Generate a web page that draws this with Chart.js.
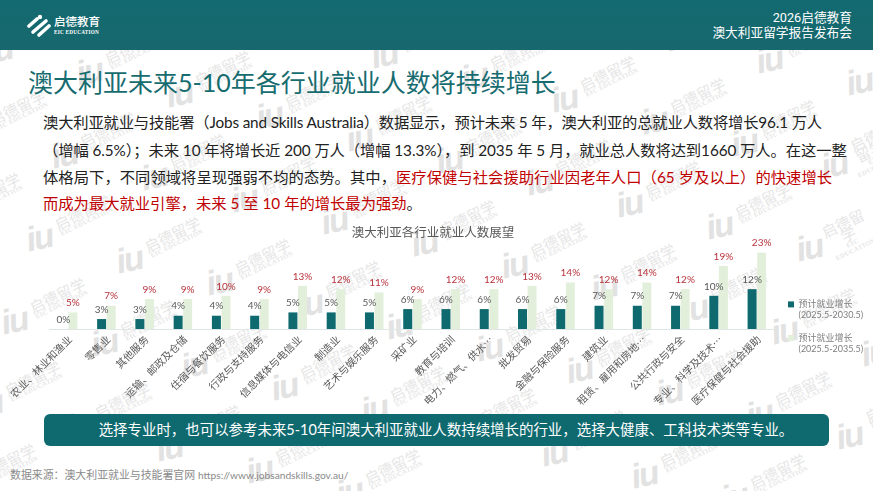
<!DOCTYPE html>
<html>
<head>
<meta charset="utf-8">
<script src="https://cdn.jsdelivr.net/npm/chart.js@4"></script>
<style>
html, body { margin: 0; padding: 0; }
body { width: 873px; height: 491px; position: relative; overflow: hidden; background: #fff; font-family: Lato, "Noto Sans CJK SC", sans-serif; }
.abs { position: absolute; white-space: nowrap; }
#marks { position: absolute; left: 0; top: 0; width: 873px; height: 491px; overflow: hidden; }
.iu { position: absolute; font: italic bold 34px "Liberation Sans", sans-serif; color: #e2e2e2; transform: rotate(-12deg); letter-spacing: -2px; }
.wm { position: absolute; font: 15px "Noto Sans CJK SC", sans-serif; color: #e6e6e6; transform: rotate(-26deg); text-align: center; line-height: 12px; }
.wm small { display: block; font: bold 6.5px "Liberation Serif", serif; letter-spacing: .4px; }
#head { left: 0; top: 0; width: 873px; height: 50px; background: linear-gradient(#126a70, #17686e); }
#title { left: 28px; top: 64px; font-size: 25px; line-height: 36px; color: #176c70; }
.para { left: 43px; font-size: 15.3px; line-height: 20px; color: #222; }
.red { color: #c00000; }
#banner { left: 44px; top: 414px; width: 766px; padding-left: 19px; height: 32px; border-radius: 6px; background: #0f6a70; color: #fff; font-size: 14.45px; line-height: 32px; text-align: center; }
#source { left: 10px; top: 468px; font-size: 10.9px; line-height: 14px; color: #8a8a8a; }
#source span { font-size: 10.2px; }
#chartBox { position: absolute; left: 0; top: 222px; }
.right { right: 21px; font-family: Roboto, "Noto Sans CJK SC", sans-serif; font-size: 12.7px; line-height: 16px; color: #fff; text-align: right; }
</style>
</head>
<body>
<div id="marks"></div>
<div class="abs" id="head"></div>
<svg class="abs" style="left:27px;top:14px" width="24" height="24" viewBox="0 0 24 24">
  <g fill="none" stroke="#fff" stroke-width="3.6" stroke-linecap="round">
    <path d="M2 12 L10 5"/><path d="M6 18 L19 7"/><path d="M12 21 L22 12"/>
  </g>
  <circle cx="13" cy="3" r="2.2" fill="#fff"/>
</svg>
<div class="abs" style="left:54px;top:14px;font-size:11.5px;line-height:16px;color:#fff;font-weight:500">启德教育</div>
<div class="abs" style="left:54px;top:28px;font:bold 5.2px/8px 'Liberation Serif',serif;color:#fff;letter-spacing:.25px">EIC EDUCATION</div>
<div class="abs right" style="top:10px">2026启德教育</div>
<div class="abs right" style="top:25px">澳大利亚留学报告发布会</div>
<div class="abs" id="title">澳大利亚未来5-10年各行业就业人数将持续增长</div>
<div class="abs para" style="top:112px;letter-spacing:-.16px">澳大利亚就业与技能署（Jobs and Skills Australia）数据显示，预计未来 5 年，澳大利亚的总就业人数将增长96.1 万人</div>
<div class="abs para" style="top:140px;letter-spacing:-.08px">（增幅 6.5%）；未来 10 年将增长近 200 万人（增幅 13.3%），到 2035 年 5 月，就业总人数将达到1660 万人。在这一整</div>
<div class="abs para" style="top:167px;letter-spacing:.05px">体格局下，不同领域将呈现强弱不均的态势。其中，<span class="red">医疗保健与社会援助行业因老年人口（65 岁及以上）的快速增长</span></div>
<div class="abs para" style="top:193px"><span class="red">而成为最大就业引擎，未来 5 至 10 年的增长最为强劲</span>。</div>
<div id="chartBox"><canvas id="chart" width="866" height="211"></canvas></div>
<div class="abs" id="banner">选择专业时，也可以参考未来5-10年间澳大利亚就业人数持续增长的行业，选择大健康、工科技术类等专业。</div>
<div class="abs" id="source">数据来源：澳大利亚就业与技能署官网 <span>https://www.jobsandskills.gov.au/</span></div>
<script>
const categories = ['农业、林业和渔业', '零售业', '其他服务', '运输、邮政及仓储', '住宿与餐饮服务', '行政与支持服务', '信息媒体与电信业', '制造业', '艺术与娱乐服务', '采矿业', '教育与培训', '电力、燃气、供水…', '批发贸易', '金融与保险服务', '建筑业', '租赁、雇用和房地…', '公共行政与安全', '专业、科学及技术…', '医疗保健与社会援助'];
const growth5y = [0, 3, 3, 4, 4, 4, 5, 5, 5, 6, 6, 6, 6, 6, 7, 7, 7, 10, 12];
const growth10y = [5, 7, 9, 9, 10, 9, 13, 12, 11, 9, 12, 12, 13, 14, 12, 14, 12, 19, 23];
const label5y = ['预计就业增长', '(2025.5-2030.5)'];
const label10y = ['预计就业增长', '(2025.5-2035.5)'];
const chartTitle = '澳大利亚各行业就业人数展望';

// watermark layer
let marks = document.getElementById('marks');
for (let i = -3; i < 12; i++) {
    for (let j = -2; j < 8; j++) {
        let x = 92 + i * 90 - j * 25;
        let y = 74 + i * 22 + j * 83;
        if (x < -80 || x > 880 || y < 30 || y > 510) continue;
        let iu = document.createElement('div');
        iu.className = 'iu';
        iu.textContent = 'iu';
        iu.style.left = (x - 16) + 'px';
        iu.style.top = (y - 22) + 'px';
        marks.appendChild(iu);
        let wm = document.createElement('div');
        wm.className = 'wm';
        wm.innerHTML = '启德留学<small>EIC EDUCATION</small>';
        wm.style.left = (x + 12) + 'px';
        wm.style.top = (y - 34) + 'px';
        marks.appendChild(wm);
    }
}

// value labels above each bar
const barLabels = {
    id: 'barLabels',
    afterDatasetsDraw(chart) {
        let ctx = chart.ctx;
        ctx.save();
        ctx.font = '10px Lato, sans-serif';
        ctx.textAlign = 'center';
        ctx.textBaseline = 'middle';
        chart.data.datasets.forEach((ds, d) => {
            ctx.fillStyle = d === 0 ? '#595959' : '#b8333c';
            chart.getDatasetMeta(d).data.forEach((bar, i) => {
                ctx.fillText(Math.round(ds.data[i]) + '%', bar.x, bar.y - 9.5);
            });
        });
        ctx.restore();
    }
};

new Chart(document.getElementById('chart').getContext('2d'), {
    type: 'bar',
    data: {
        labels: categories,
        datasets: [
            { label: label5y, data: growth5y, backgroundColor: '#0f6a6f', barPercentage: 0.94, categoryPercentage: 0.5 },
            { label: label10y, data: growth10y, backgroundColor: '#e2efda', barPercentage: 0.94, categoryPercentage: 0.5 }
        ]
    },
    options: {
        responsive: false,
        animation: false,
        scales: {
            y: {
                min: 0,
                max: 25,
                afterFit: scale => { scale.width = 49; },
                grid: { display: false },
                border: { display: false },
                ticks: { display: false }
            },
            x: {
                afterFit: scale => { scale.height = 104; },
                grid: { display: false, drawTicks: false },
                border: { color: '#dfe6e6' },
                ticks: {
                    autoSkip: false,
                    minRotation: 45,
                    maxRotation: 45,
                    padding: 4,
                    labelOffset: 2,
                    color: '#595959',
                    font: { family: '"Noto Sans CJK SC"', size: 10.3 }
                }
            }
        },
        plugins: {
            title: {
                display: true,
                text: chartTitle,
                color: '#595959',
                font: { family: '"Noto Sans CJK SC"', size: 12.5, weight: 'normal' },
                padding: { top: 3, bottom: 6 }
            },
            legend: {
                position: 'right',
                maxWidth: 90,
                labels: {
                    usePointStyle: true,
                    pointStyle: 'rect',
                    boxWidth: 6,
                    boxHeight: 6,
                    padding: 12,
                    color: '#7f7f7f',
                    font: { family: 'Lato, "Noto Sans CJK SC"', size: 9 }
                }
            },
            tooltip: { enabled: false }
        }
    },
    plugins: [barLabels]
});
</script>
</body>
</html>
